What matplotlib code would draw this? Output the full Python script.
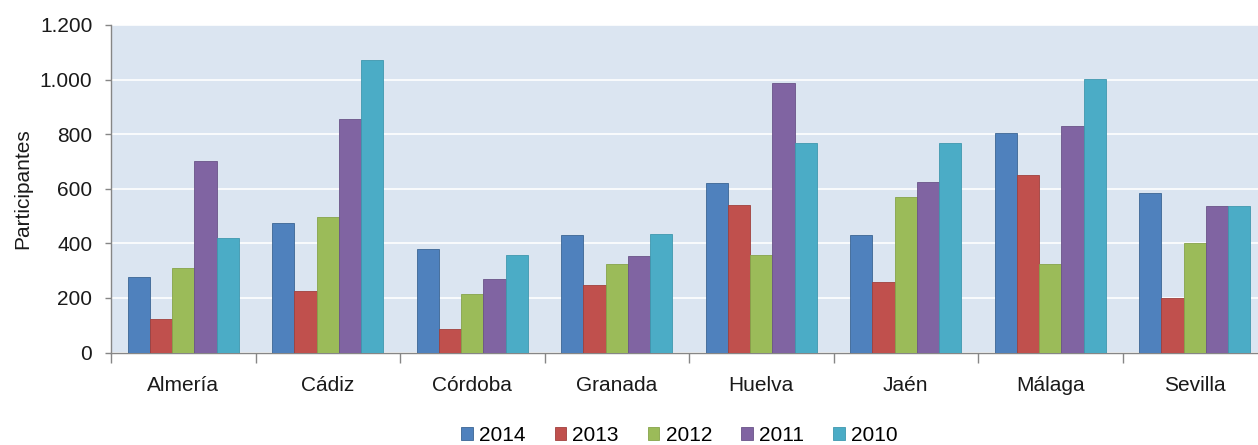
import numpy as np
import matplotlib
matplotlib.use("Agg")
import matplotlib.pyplot as plt
from matplotlib.ticker import FuncFormatter, FixedLocator

plt.rcParams['font.family'] = ['Liberation Sans', 'DejaVu Sans']

# data
provincias = ['Almería', 'Cádiz', 'Córdoba', 'Granada', 'Huelva', 'Jaén', 'Málaga', 'Sevilla']
years = ['2014', '2013', '2012', '2011', '2010']
v2014 = [278, 476, 378, 429, 621, 431, 806, 586]
v2013 = [123, 226, 86, 247, 539, 260, 652, 199]
v2012 = [308, 497, 216, 326, 357, 569, 326, 402]
v2011 = [700, 855, 268, 353, 986, 626, 831, 535]
v2010 = [421, 1070, 357, 436, 766, 766, 1003, 535]

series = [v2014, v2013, v2012, v2011, v2010]
colors = ['#4F81BD', '#C0504D', '#9BBB59', '#8064A2', '#4BACC6']
edges = ['#3B6594', '#A0403D', '#86A34A', '#6A5388', '#3F97AE']

fig = plt.figure(figsize=(12.58, 4.45), dpi=100)
ax = fig.add_axes([111/1258, 1 - 352.5/445, 1156/1258, 327.5/445])
ax.set_facecolor('#DBE5F1')

x = np.arange(len(provincias))
w = 0.1536
for i, (vals, c, ec) in enumerate(zip(series, colors, edges)):
    ax.bar(x + (i - 2) * w, vals, width=w, color=c, edgecolor=ec, linewidth=0.6,
           label=years[i], zorder=3)

ax.set_xlim(-0.5, len(provincias) - 0.5)
ax.set_ylim(0, 1200)
ax.set_yticks(range(0, 1201, 200))
ax.yaxis.set_major_formatter(FuncFormatter(lambda v, p: f'{int(v):,}'.replace(',', '.')))
ax.yaxis.grid(True, color='white', linewidth=1.2, zorder=0)
ax.set_axisbelow(True)

# category boundaries as major ticks, labels on minor ticks
ax.xaxis.set_major_locator(FixedLocator(np.arange(-0.5, len(provincias), 1.0)))
ax.xaxis.set_major_formatter(FuncFormatter(lambda v, p: ''))
ax.xaxis.set_minor_locator(FixedLocator(x))
ax.set_xticklabels(provincias, minor=True)
ax.tick_params(axis='x', which='major', length=7, color='#868686', width=1)
ax.tick_params(axis='x', which='minor', length=0, pad=17, labelsize=15, labelcolor='#1a1a1a')
ax.tick_params(axis='y', length=4.5, color='#868686', width=1, pad=9,
               labelsize=15, labelcolor='#1a1a1a')

for s in ['top', 'right']:
    ax.spines[s].set_visible(False)
for s in ['left', 'bottom']:
    ax.spines[s].set_color('#868686')
    ax.spines[s].set_linewidth(1)

ax.set_ylabel('Participantes', fontsize=15, color='#1a1a1a', labelpad=5)

fig.legend(ncol=5, loc='lower center', bbox_to_anchor=(0.54, -0.005), frameon=False,
           fontsize=15, handlelength=0.55, handleheight=0.55, handletextpad=0.3,
           columnspacing=1.4, borderpad=0.1, borderaxespad=0)

fig.savefig('out.png', dpi=100)
